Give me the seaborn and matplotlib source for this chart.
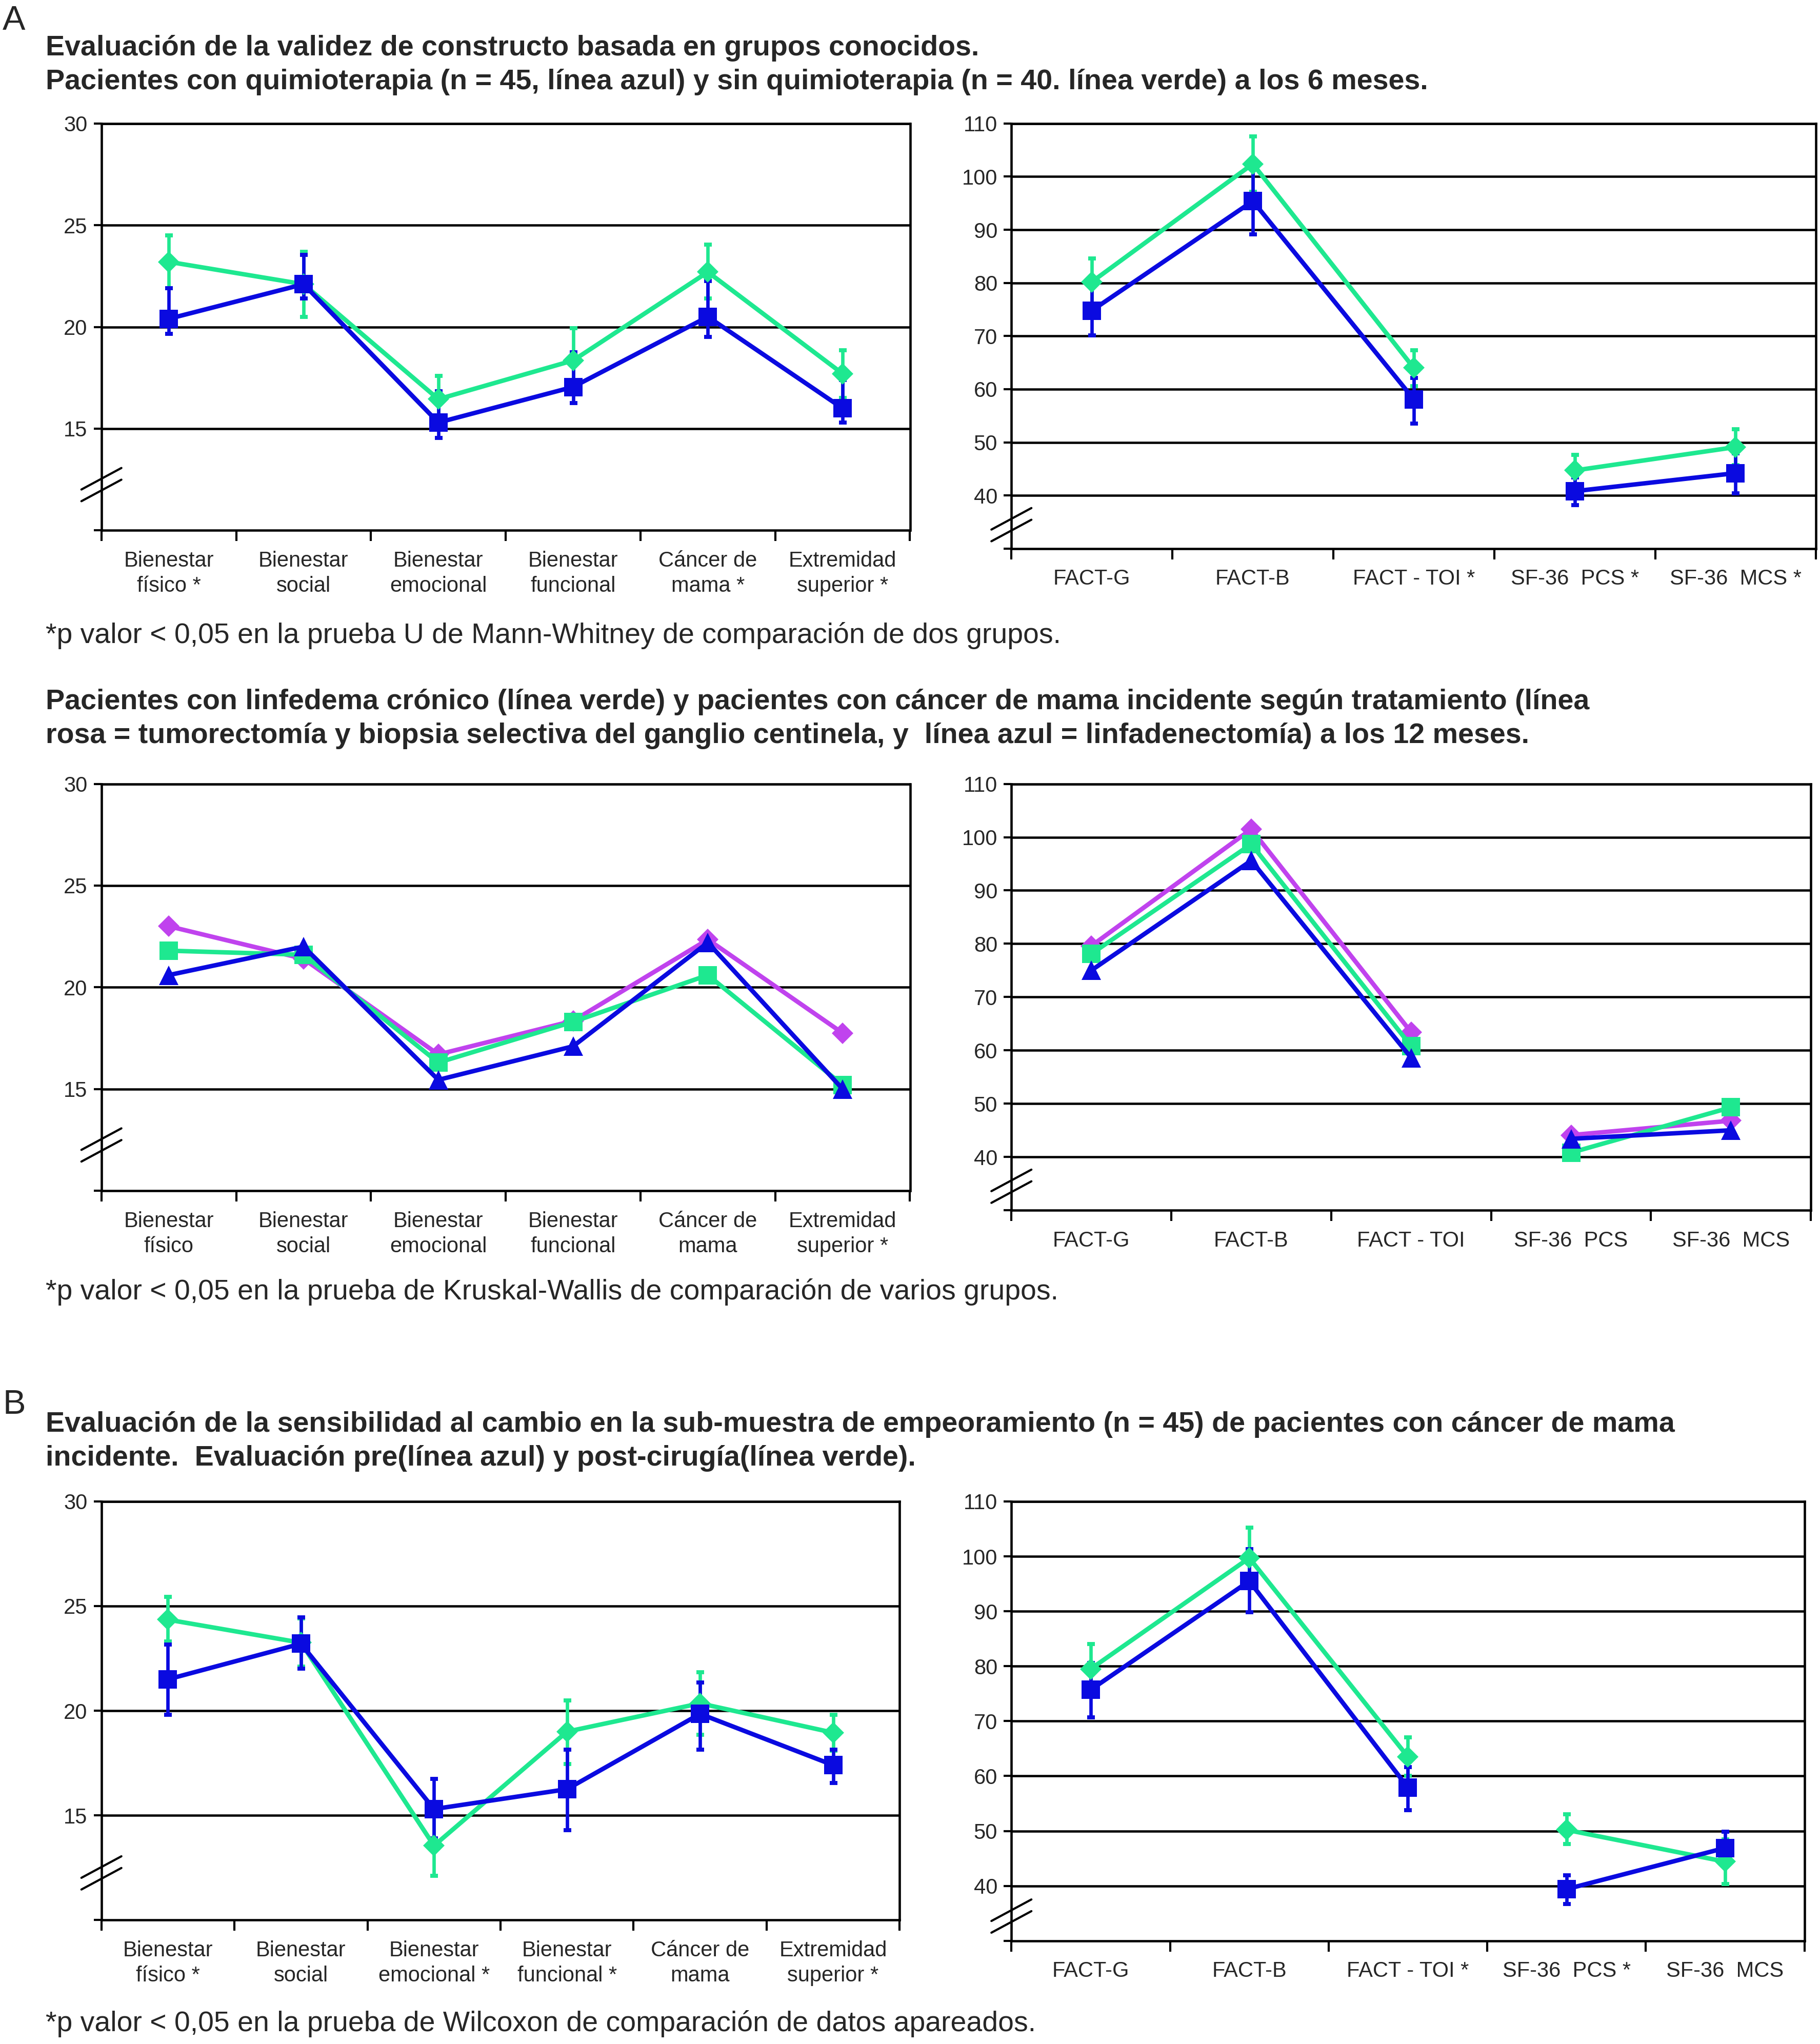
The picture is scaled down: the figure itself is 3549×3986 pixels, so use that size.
import numpy as np
import seaborn as sns
import matplotlib.pyplot as plt
from matplotlib import font_manager

# reference layout grid (positions below are given on a 1400 px wide page)
W_REF, H_REF = 1400.0, 1572.4

# ---- categories -------------------------------------------------------------
SUB_A1 = ["Bienestar\nfísico *", "Bienestar\nsocial", "Bienestar\nemocional",
          "Bienestar\nfuncional", "Cáncer de\nmama *", "Extremidad\nsuperior *"]
TOT_A1 = ["FACT-G", "FACT-B", "FACT - TOI *", "SF-36  PCS *", "SF-36  MCS *"]
SUB_A2 = ["Bienestar\nfísico", "Bienestar\nsocial", "Bienestar\nemocional",
          "Bienestar\nfuncional", "Cáncer de\nmama", "Extremidad\nsuperior *"]
TOT_A2 = ["FACT-G", "FACT-B", "FACT - TOI", "SF-36  PCS", "SF-36  MCS"]
SUB_B = ["Bienestar\nfísico *", "Bienestar\nsocial", "Bienestar\nemocional *",
         "Bienestar\nfuncional *", "Cáncer de\nmama", "Extremidad\nsuperior *"]
TOT_B = ["FACT-G", "FACT-B", "FACT - TOI *", "SF-36  PCS *", "SF-36  MCS"]

# questionnaire each score belongs to (lines are only joined within one)
INSTR_SUB = ["FACT-B"] * 6
INSTR_TOT = ["FACT", "FACT", "FACT", "SF-36", "SF-36"]

# ---- A, 6 months: chemo (blue) vs no chemo (green) --------------------------
a1_quimio = [20.4, 22.1, 15.3, 17.05, 20.5, 16.0]
a1_quimio_lo = [19.65, 21.4, 14.55, 16.25, 19.5, 15.3]
a1_quimio_hi = [21.9, 23.55, 16.85, 18.75, 22.25, 17.4]
a1_sinq = [23.2, 22.1, 16.45, 18.35, 22.7, 17.7]
a1_sinq_lo = [21.9, 20.5, 15.35, 16.75, 21.4, 16.5]
a1_sinq_hi = [24.5, 23.7, 17.6, 19.95, 24.05, 18.85]

a1t_quimio = [74.8, 95.4, 58.1, 40.8, 44.2]
a1t_quimio_lo = [70.1, 89.1, 53.5, 38.2, 40.4]
a1t_quimio_hi = [79.5, 101.7, 62.1, 43.4, 47.9]
a1t_sinq = [80.2, 102.4, 64.0, 44.7, 49.1]
a1t_sinq_lo = [75.8, 97.1, 60.6, 41.8, 45.7]
a1t_sinq_hi = [84.6, 107.6, 67.3, 47.6, 52.5]

# ---- A, 12 months: lymphedema (green), lumpectomy (pink), lymphadenectomy (blue)
a2_tumor = [23.0, 21.4, 16.7, 18.35, 22.35, 17.75]
a2_linfedema = [21.8, 21.6, 16.3, 18.3, 20.6, 15.2]
a2_linfadenec = [20.6, 22.0, 15.45, 17.1, 22.2, 15.0]

a2t_tumor = [79.6, 101.5, 63.4, 44.1, 46.8]
a2t_linfedema = [78.1, 98.7, 60.8, 40.8, 49.3]
a2t_linfadenec = [75.0, 95.6, 58.6, 43.4, 45.0]

# ---- B: pre (blue) vs post surgery (green) ----------------------------------
b_pre = [21.5, 23.2, 15.3, 16.25, 19.85, 17.4]
b_pre_lo = [19.8, 22.0, 13.9, 14.3, 18.15, 16.55]
b_pre_hi = [23.15, 24.45, 16.75, 18.15, 21.35, 18.15]
b_post = [24.35, 23.25, 13.55, 19.0, 20.35, 18.95]
b_post_lo = [23.3, 22.1, 12.1, 17.45, 18.85, 18.1]
b_post_hi = [25.45, 24.4, 15.0, 20.5, 21.85, 19.8]

bt_pre = [75.7, 95.5, 57.9, 39.4, 46.9]
bt_pre_lo = [70.7, 89.8, 53.8, 36.7, 44.0]
bt_pre_hi = [80.6, 101.3, 61.6, 41.9, 49.9]
bt_post = [79.5, 99.7, 63.5, 50.2, 44.4]
bt_post_lo = [75.1, 94.2, 60.0, 47.6, 40.3]
bt_post_hi = [84.0, 105.2, 67.0, 53.0, 48.5]

# ---- styles -----------------------------------------------------------------
AZUL = "#0A0AE0"
VERDE = "#1EE890"
ROSA = "#C043EE"
ESTILO = {
    "azul_sq": dict(color=AZUL, marker="s", markersize=8.5),
    "verde_d": dict(color=VERDE, marker="D", markersize=7.0),
    "verde_sq": dict(color=VERDE, marker="s", markersize=8.5),
    "rosa_d": dict(color=ROSA, marker="D", markersize=7.0),
    "azul_tri": dict(color=AZUL, marker="^", markersize=9.0),
}

sns.set_theme(style="white")
fuentes = {f.name for f in font_manager.fontManager.ttflist}
FAM = ["Liberation Sans", "DejaVu Sans"] if "Liberation Sans" in fuentes else ["DejaVu Sans"]
plt.rcParams["font.family"] = FAM
plt.rcParams["axes.linewidth"] = 1.0


def rect(x0, y0, x1, y1):
    return [x0 / W_REF, 1 - y1 / H_REF, (x1 - x0) / W_REF, (y1 - y0) / H_REF]


def draw_series(ax, values, instr, style, lo=None, hi=None):
    xpos = np.arange(len(values))
    vals = np.asarray(values)
    if lo is not None:
        err = [vals - np.asarray(lo), np.asarray(hi) - vals]
        ax.errorbar(xpos, vals, yerr=err, fmt="none", ecolor=style["color"],
                    elinewidth=1.6, capsize=1.8, capthick=1.9, zorder=3)
    sns.lineplot(x=xpos, y=vals, units=instr, estimator=None,
                 color=style["color"], marker=style["marker"],
                 markersize=style["markersize"], markeredgewidth=0,
                 linewidth=2.1, ax=ax, zorder=4)


def setup_axes(fig, ax, labels, ymin, ymax, step):
    n = len(labels)
    ax.set_xlim(-0.5, n - 0.5)
    ax.set_ylim(ymin, ymax)
    ax.set_xticks(np.arange(n + 1) - 0.5)
    ax.set_xticklabels([])
    ax.set_xticks(np.arange(n), minor=True)
    ax.set_xticklabels(labels, minor=True, fontsize=10, linespacing=1.3)
    ax.tick_params(axis="x", which="major", direction="out", length=5,
                   width=1, color="black", bottom=True)
    ax.tick_params(axis="x", which="minor", length=0, pad=9.5)
    yt = np.arange(ymin, ymax + step, step)
    ax.set_yticks(yt)
    ax.set_yticklabels([""] + [str(int(v)) for v in yt[1:]], fontsize=10)
    ax.tick_params(axis="y", direction="out", length=3.5, width=1,
                   color="black", left=True, pad=3)
    ax.grid(False)
    for v in yt[1:]:
        ax.axhline(v, color="black", lw=1.1, zorder=1)
    for sp in ax.spines.values():
        sp.set_color("black")
        sp.set_linewidth(1.1)
    ax.set_xlabel("")
    ax.set_ylabel("")
    # axis break marks "//" on the y axis
    bb = ax.get_position()
    w_in = bb.width * fig.get_figwidth()
    h_in = bb.height * fig.get_figheight()
    yb = ymin + 0.45 * step
    fy = (ymax - ymin) / h_in
    hx = 0.13 / w_in
    hy = 0.07 * fy
    for off in (-0.038, 0.038):
        ax.plot([-hx, hx], [yb - hy + off * fy, yb + hy + off * fy],
                transform=ax.get_yaxis_transform(), color="black", lw=1.0,
                clip_on=False, zorder=5)


fig = plt.figure(figsize=(3549 / 300, 3986 / 300), dpi=300)
fig.patch.set_facecolor("white")


def ftext(x, y, s, **kw):
    fig.text(x / W_REF, 1 - y / H_REF, s, va="center", ha="left", **kw)


TITLE_FS = 13.35
NOTE_FS = 13.3

# ---- header texts -------------------------------------------------------------
ftext(2, 16, "A", fontsize=16)
ftext(35, 37, "Evaluación de la validez de constructo basada en grupos conocidos.",
      fontsize=TITLE_FS, fontweight="bold")
ftext(35, 63, "Pacientes con quimioterapia (n = 45, línea azul) y sin quimioterapia "
      "(n = 40. línea verde) a los 6 meses.", fontsize=TITLE_FS, fontweight="bold")
ftext(35, 489, "*p valor < 0,05 en la prueba U de Mann-Whitney de comparación de dos grupos.",
      fontsize=NOTE_FS)
ftext(35, 540, "Pacientes con linfedema crónico (línea verde) y pacientes con cáncer de mama "
      "incidente según tratamiento (línea", fontsize=TITLE_FS, fontweight="bold")
ftext(35, 566, "rosa = tumorectomía y biopsia selectiva del ganglio centinela, y  línea azul "
      "= linfadenectomía) a los 12 meses.", fontsize=TITLE_FS, fontweight="bold")
ftext(35, 994, "*p valor < 0,05 en la prueba de Kruskal-Wallis de comparación de varios grupos.",
      fontsize=NOTE_FS)
ftext(2, 1081, "B", fontsize=16)
ftext(35, 1096, "Evaluación de la sensibilidad al cambio en la sub-muestra de empeoramiento "
      "(n = 45) de pacientes con cáncer de mama", fontsize=TITLE_FS, fontweight="bold")
ftext(35, 1122, "incidente.  Evaluación pre(línea azul) y post-cirugía(línea verde).",
      fontsize=TITLE_FS, fontweight="bold")
ftext(35, 1557, "*p valor < 0,05 en la prueba de Wilcoxon de comparación de datos apareados.",
      fontsize=NOTE_FS)

# ---- panel A, 6 months ----------------------------------------------------------
ax = fig.add_axes(rect(78, 95, 700, 408))
draw_series(ax, a1_sinq, INSTR_SUB, ESTILO["verde_d"], a1_sinq_lo, a1_sinq_hi)
draw_series(ax, a1_quimio, INSTR_SUB, ESTILO["azul_sq"], a1_quimio_lo, a1_quimio_hi)
setup_axes(fig, ax, SUB_A1, 10, 30, 5)

ax = fig.add_axes(rect(778, 95, 1397, 422))
draw_series(ax, a1t_sinq, INSTR_TOT, ESTILO["verde_d"], a1t_sinq_lo, a1t_sinq_hi)
draw_series(ax, a1t_quimio, INSTR_TOT, ESTILO["azul_sq"], a1t_quimio_lo, a1t_quimio_hi)
setup_axes(fig, ax, TOT_A1, 30, 110, 10)

# ---- panel A, 12 months ---------------------------------------------------------
ax = fig.add_axes(rect(78, 603, 700, 916))
draw_series(ax, a2_tumor, INSTR_SUB, ESTILO["rosa_d"])
draw_series(ax, a2_linfedema, INSTR_SUB, ESTILO["verde_sq"])
draw_series(ax, a2_linfadenec, INSTR_SUB, ESTILO["azul_tri"])
setup_axes(fig, ax, SUB_A2, 10, 30, 5)

ax = fig.add_axes(rect(778, 603, 1393, 931))
draw_series(ax, a2t_tumor, INSTR_TOT, ESTILO["rosa_d"])
draw_series(ax, a2t_linfedema, INSTR_TOT, ESTILO["verde_sq"])
draw_series(ax, a2t_linfadenec, INSTR_TOT, ESTILO["azul_tri"])
setup_axes(fig, ax, TOT_A2, 30, 110, 10)

# ---- panel B ----------------------------------------------------------------------
ax = fig.add_axes(rect(78, 1155, 692, 1477))
draw_series(ax, b_post, INSTR_SUB, ESTILO["verde_d"], b_post_lo, b_post_hi)
draw_series(ax, b_pre, INSTR_SUB, ESTILO["azul_sq"], b_pre_lo, b_pre_hi)
setup_axes(fig, ax, SUB_B, 10, 30, 5)

ax = fig.add_axes(rect(778, 1155, 1388, 1493))
draw_series(ax, bt_post, INSTR_TOT, ESTILO["verde_d"], bt_post_lo, bt_post_hi)
draw_series(ax, bt_pre, INSTR_TOT, ESTILO["azul_sq"], bt_pre_lo, bt_pre_hi)
setup_axes(fig, ax, TOT_B, 30, 110, 10)

fig.savefig("out.png", dpi=300, facecolor="white")
